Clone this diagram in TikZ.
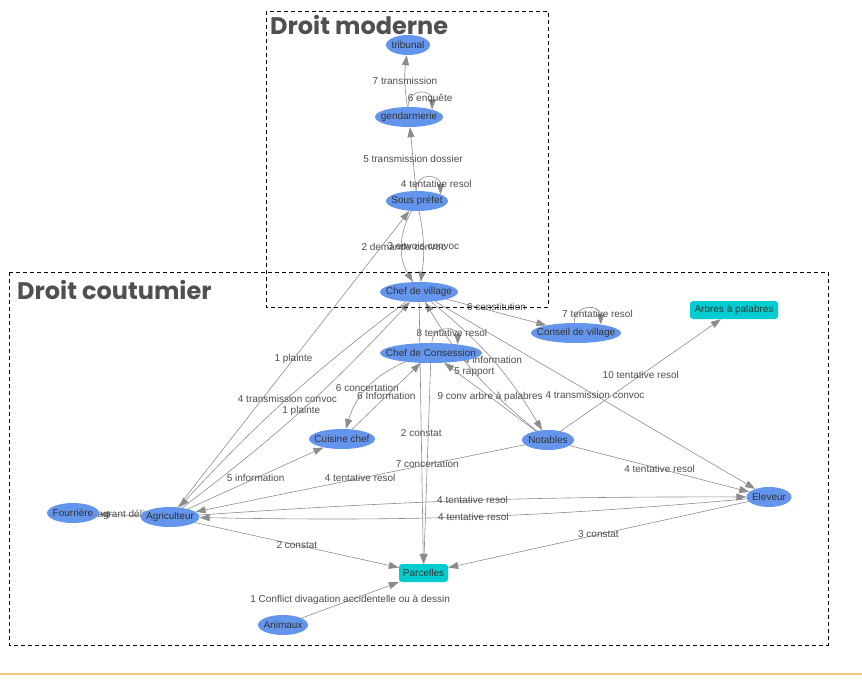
\documentclass[tikz,border=0pt]{standalone}
\usepackage{fontspec}
\setmainfont{Liberation Sans}
\newfontfamily\titlefont{Poppins}
\usetikzlibrary{shapes.geometric,arrows.meta}
\definecolor{persblue}{RGB}{100,149,237}
\definecolor{lieucyan}{RGB}{0,205,208}
\definecolor{edgegray}{RGB}{140,140,140}
\definecolor{lbltext}{RGB}{77,77,77}
\definecolor{titlegray}{RGB}{80,80,80}
\definecolor{footorange}{RGB}{245,200,122}
\pgfdeclarelayer{bg}
\pgfsetlayers{bg,main}
\tikzset{
	pers/.style={ellipse, fill=persblue, inner sep=0pt, minimum height=20pt, text=black!80, font=\fontsize{10}{12}\selectfont},
	lieu/.style={rectangle, rounded corners=3pt, fill=lieucyan, inner sep=0pt, minimum height=18pt, text=black!80, font=\fontsize{10}{12}\selectfont},
	rel/.style={draw=edgegray, line width=0.6pt, -{Triangle[length=10pt,width=7pt]}},
	lbl/.style={text=lbltext, inner sep=1pt, font=\fontsize{10}{12}\selectfont},
	zone/.style={draw=black, dash pattern=on 4pt off 3pt, line width=0.8pt},
	titre/.style={text=titlegray, inner sep=0pt, font=\titlefont\bfseries\fontsize{24}{28}\selectfont}
}
\newcommand{\pers}[4]{\node[pers, minimum width=#3pt] (#1) at (#2) {\makebox[0pt]{#4}};}
\newcommand{\lieu}[4]{\node[lieu, minimum width=#3pt] (#1) at (#2) {\makebox[0pt]{#4}};}

\begin{document}
\begin{tikzpicture}[x=1pt,y=1pt]

	\useasboundingbox (0,0) rectangle (862,-689);

	\draw[zone] (266,-11) rectangle (548,-307);
	\draw[zone] (9,-272) rectangle (828,-645);
	\node[titre, anchor=base west] (tmod) at (270,-34) {Droit moderne};
	\node[titre, anchor=base west] (tcout) at (17,-299) {Droit coutumier};
	\draw[footorange, line width=2pt] (0,-674) -- (862,-674);

	\pers{trib}{408,-45}{44}{tribunal}
	\pers{gend}{409,-117}{68}{gendarmerie}
	\pers{sp}{417,-201}{62}{Sous préfet}
	\pers{cv}{419,-292}{78}{Chef de village}
	\pers{conseil}{576,-333}{90}{Conseil de village}
	\lieu{arbres}{734,-310}{88}{Arbres à palabres}
	\pers{cc}{431,-353}{102}{Chef de Consession}
	\pers{cuisine}{342,-439}{66}{Cuisine chef}
	\pers{notab}{548,-440}{52}{Notables}
	\pers{elev}{769,-497}{45}{Eleveur}
	\pers{fourr}{73,-513}{52}{Fourrière}
	\pers{agri}{170,-517}{59}{Agriculteur}
	\lieu{parc}{423.5,-573}{49}{Parcelles}
	\pers{anim}{283,-625}{50}{Animaux}

	\begin{pgfonlayer}{bg}
		\draw[rel] (gend) to[bend left=8] node[lbl] {7 transmission} (trib);
		\draw[rel] (gend.95) .. controls +(90:20) and +(90:20) .. (gend.18) node[lbl, pos=0.5, xshift=10pt, yshift=-6pt] {6 enquête};
		\draw[rel] (sp) -- node[lbl] {5 transmission dossier} (gend);
		\draw[rel] (sp.95) .. controls +(90:20) and +(90:20) .. (sp.16) node[lbl, pos=0.5, xshift=8pt, yshift=-6pt] {4 tentative resol};
		\draw[rel] (sp) to[bend right=30] node[lbl, xshift=2pt] {2 demande convoc} (cv);
		\draw[rel] (sp) to[bend left=10] node[lbl] {3 envois convoc} (cv);
		\draw[rel] (agri) -- node[lbl] {1 plainte} (sp);

		\draw[rel] (cv) -- node[lbl, yshift=5pt] {6 constitution} (conseil);
		\draw[rel] (conseil.100) .. controls +(90:20) and +(90:20) .. (conseil.19) node[lbl, pos=0.5, xshift=10pt, yshift=-5pt] {7 tentative resol};
		\draw[rel] (cc.85) .. controls +(90:18) and +(90:18) .. (cc.18) node[lbl, pos=0.5, xshift=7pt, yshift=-3pt] {8 tentative resol};
		\draw[rel] (cv) to[bend right=5] node[lbl] {4 transmission convoc} (agri);
		\draw[rel] (agri) to[bend right=5] node[lbl] {1 plainte} (cv);
		\draw[rel] (cv) to[bend left=10] node[lbl] {4 information} (notab);
		\draw[rel] (notab) to[bend left=10] node[lbl] {5 rapport} (cv);
		\draw[rel] (cv) -- node[lbl] {4 transmission convoc} (elev);
		\draw[rel] (cv) -- node[lbl] {2 constat} (parc);

		\draw[rel] (cc) -- node[lbl] {7 concertation} (parc);
		\draw[rel] (cc) to[bend right=25] node[lbl] {6 concertation} (cuisine);
		\draw[rel] (cuisine) -- node[lbl] {6 Information} (cc);
		\draw[rel] (notab) -- node[lbl] {9 conv arbre à palabres} (cc);
		\draw[rel] (notab) -- node[lbl] {10 tentative resol} (arbres);
		\draw[rel] (notab) -- node[lbl] {4 tentative resol} (elev);
		\draw[rel] (notab) -- node[lbl] {4 tentative resol} (agri);

		\draw[rel] (agri) -- node[lbl] {5 information} (cuisine);
		\draw[rel] (agri) to[bend left=2] node[lbl] {4 tentative resol} (elev);
		\draw[rel] (elev) to[bend left=3] node[lbl] {4 tentative resol} (agri);
		\draw[rel] (agri) -- node[lbl] {flagrant délit} (fourr);
		\draw[rel] (agri) -- node[lbl] {2 constat} (parc);
		\draw[rel] (elev) -- node[lbl] {3 constat} (parc);
		\draw[rel] (anim) -- node[lbl] {1 Conflict divagation accidentelle ou à dessin} (parc);
	\end{pgfonlayer}

\end{tikzpicture}
\end{document}
